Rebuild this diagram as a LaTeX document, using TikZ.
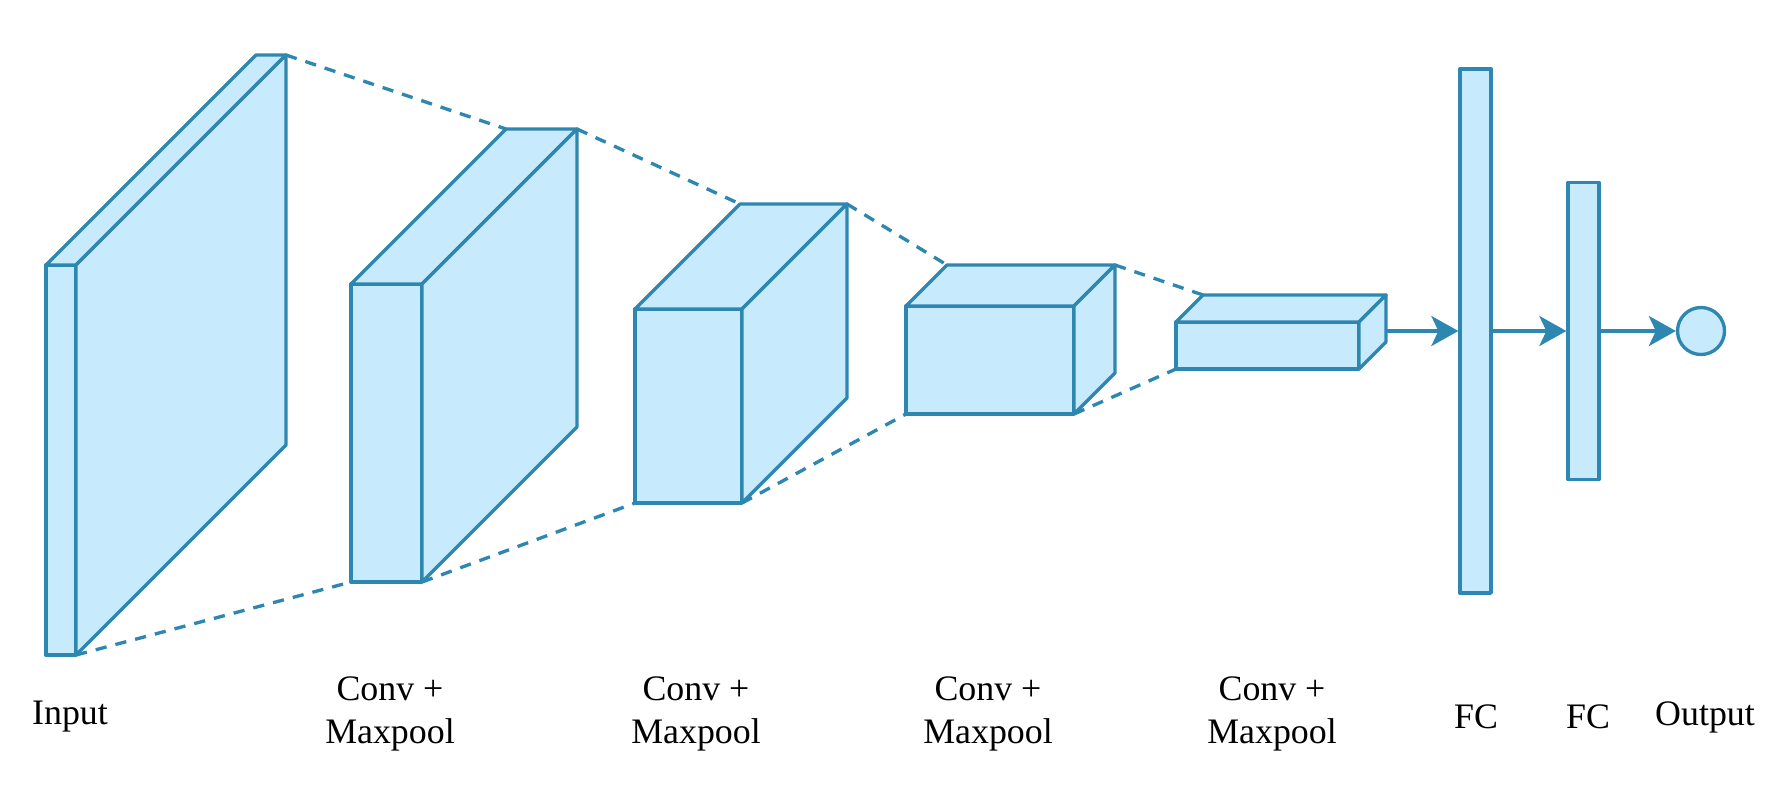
\documentclass[tikz,border=0pt]{standalone}
\usepackage{xcolor}
\usepackage{fontspec}
\setmainfont{Liberation Serif}
\usepackage{tikz}
\usetikzlibrary{arrows.meta}
\definecolor{layerline}{RGB}{46,135,176}
\definecolor{layerfill}{RGB}{199,234,252}
\tikzset{
  layer/.style={draw=layerline, fill=layerfill, line width=0.95pt, line join=round},
  link/.style={draw=layerline, line width=0.95pt, dash pattern=on 3.2pt off 2.6pt},
  flow/.style={draw=layerline, line width=0.95pt,
    -{Stealth[length=0.27cm, width=0.3cm, inset=0.07cm]}},
  caption/.style={align=center, font=\fontsize{10.2}{12.2}\selectfont, inner sep=0pt}
}

\begin{document}
\begin{tikzpicture}
	\useasboundingbox (0,0) rectangle (17.82,7.84);
	% input
	\draw[layer] (0.46,1.29) rectangle (0.76,5.19);
	\draw[layer] (0.46,5.19) -- ++(2.10,2.10) -- ++(0.30,0) coordinate (in-br) -- (0.76,5.19) -- cycle;
	\draw[layer] (0.76,1.29) coordinate (in-fr) -- ++(2.10,2.10) -- (in-br) -- (0.76,5.19) -- cycle;
	% conv 1
	\draw[layer] (3.51,2.02) coordinate (c1-fl) rectangle (4.22,5.00);
	\draw[layer] (3.51,5.00) -- ++(1.55,1.55) coordinate (c1-bl) -- ++(0.71,0) coordinate (c1-br) -- (4.22,5.00) -- cycle;
	\draw[layer] (4.22,2.02) coordinate (c1-fr) -- ++(1.55,1.55) -- (c1-br) -- (4.22,5.00) -- cycle;
	% conv 2
	\draw[layer] (6.35,2.81) coordinate (c2-fl) rectangle (7.42,4.75);
	\draw[layer] (6.35,4.75) -- ++(1.05,1.05) coordinate (c2-bl) -- ++(1.07,0) coordinate (c2-br) -- (7.42,4.75) -- cycle;
	\draw[layer] (7.42,2.81) coordinate (c2-fr) -- ++(1.05,1.05) -- (c2-br) -- (7.42,4.75) -- cycle;
	% conv 3
	\draw[layer] (9.06,3.70) coordinate (c3-fl) rectangle (10.74,4.78);
	\draw[layer] (9.06,4.78) -- ++(0.41,0.41) coordinate (c3-bl) -- ++(1.68,0) coordinate (c3-br) -- (10.74,4.78) -- cycle;
	\draw[layer] (10.74,3.70) coordinate (c3-fr) -- ++(0.41,0.41) -- (c3-br) -- (10.74,4.78) -- cycle;
	% conv 4
	\draw[layer] (11.76,4.15) coordinate (c4-fl) rectangle (13.59,4.62);
	\draw[layer] (11.76,4.62) -- ++(0.27,0.27) coordinate (c4-bl) -- ++(1.83,0) coordinate (c4-br) -- (13.59,4.62) -- cycle;
	\draw[layer] (13.59,4.15) -- ++(0.27,0.27) -- (c4-br) -- (13.59,4.62) -- cycle;
	\coordinate (c4-out) at (13.86,4.53);
	%
	\draw[link] (in-br) -- (c1-bl);
	\draw[link] (c1-br) -- (c2-bl);
	\draw[link] (c2-br) -- (c3-bl);
	\draw[link] (c3-br) -- (c4-bl);
	\draw[link] (in-fr) -- (c1-fl);
	\draw[link] (c1-fr) -- (c2-fl);
	\draw[link] (c2-fr) -- (c3-fl);
	\draw[link] (c3-fr) -- (c4-fl);
	%
	\node[layer, minimum width=0.31cm, minimum height=5.24cm, inner sep=0pt] (fc1) at (14.755,4.53) {};
	\node[layer, minimum width=0.31cm, minimum height=2.97cm, inner sep=0pt] (fc2) at (15.835,4.53) {};
	\node[layer, circle, minimum size=0.47cm, inner sep=0pt] (out) at (17.01,4.53) {};
	\draw[flow] (c4-out) -- (fc1);
	\draw[flow] (fc1) -- (fc2);
	\draw[flow] (fc2) -- (out);
	%
	\node[caption] (l-in) at (0.70,0.67) {Input};
	\node[caption] (l-c1) at (3.90,0.70) {Conv +\\Maxpool};
	\node[caption] (l-c2) at (6.96,0.70) {Conv +\\Maxpool};
	\node[caption] (l-c3) at (9.88,0.70) {Conv +\\Maxpool};
	\node[caption] (l-c4) at (12.72,0.70) {Conv +\\Maxpool};
	\node[caption] (l-fc1) at (14.76,0.67) {FC};
	\node[caption] (l-fc2) at (15.88,0.67) {FC};
	\node[caption] (l-out) at (17.05,0.67) {Output};
\end{tikzpicture}
\end{document}
